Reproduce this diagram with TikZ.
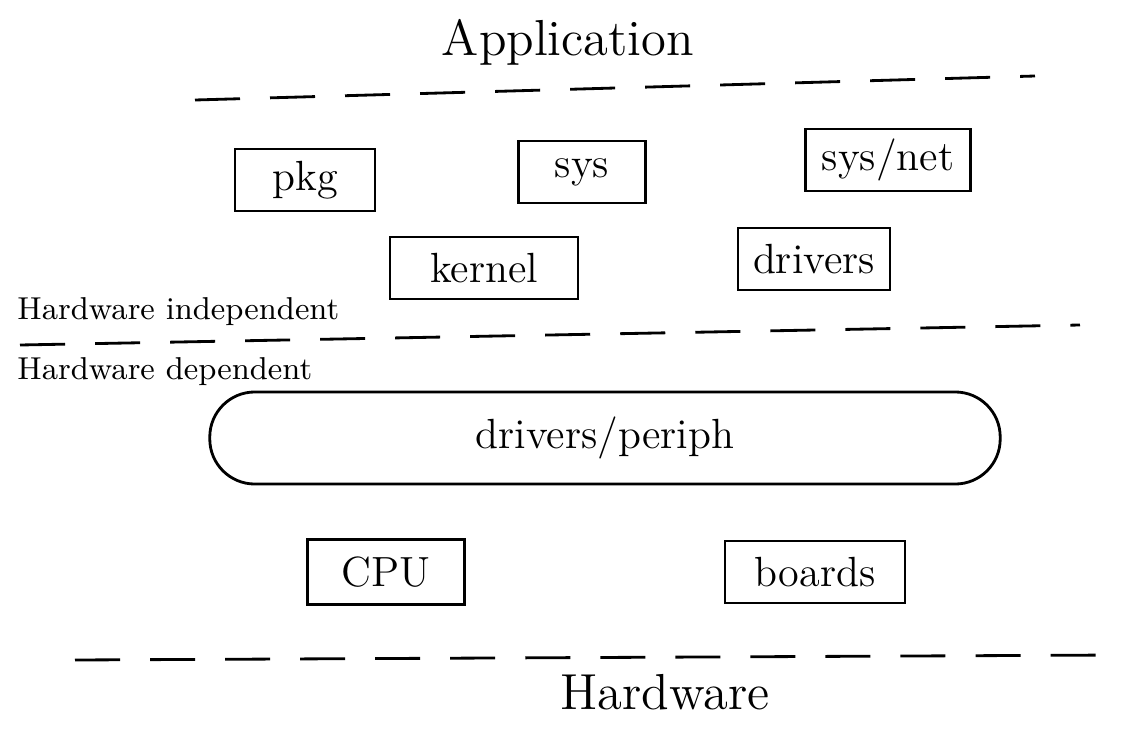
\documentclass[tikz,border=0pt]{standalone}
\usetikzlibrary{positioning}
\tikzset{
  layer/.style={draw,thick,minimum height=0.62cm,inner sep=0pt,font=\large},
  sepline/.style={thick,dash pattern=on 0.45cm off 0.3cm},
  tag/.style={font=\small,anchor=west}
}
\begin{document}
\begin{tikzpicture}[x=0.01cm,y=-0.01cm]
 \useasboundingbox (0,0) rectangle (1129,733);
 % top layer
 \node[font=\Large] (app) at (568,42) {Application};
 \draw[sepline] (195,100) -- (1035,76);
 % hardware independent part
 \node[layer,minimum width=1.4cm] (pkg) at (305,180) {pkg};
 \node[layer,minimum width=1.27cm] (sys) at (582,172) {sys};
 \node[layer,minimum width=1.65cm] (sysnet) at (888,160) {sys/net};
 \node[layer,minimum width=1.88cm] (kernel) at (484,268) {kernel};
 \node[layer,minimum width=1.52cm] (drivers) at (814,259) {drivers};
 \node[tag] (hwind) at (5,312) {Hardware independent};
 \draw[sepline] (20,345) -- (1080,325);
 % hardware dependent part
 \node[tag] (hwdep) at (5,372) {Hardware dependent};
 \node[draw,thick,rounded corners=0.45cm,minimum width=7.9cm,minimum height=0.92cm,font=\large] (periph) at (605,438) {drivers/periph};
 \node[layer,minimum width=1.57cm,minimum height=0.65cm] (cpu) at (386,572) {CPU};
 \node[layer,minimum width=1.8cm] (boards) at (815,572) {boards};
 \draw[sepline] (75,660) -- (1120,655);
 \node[font=\Large] (hw) at (665,692) {Hardware};
\end{tikzpicture}
\end{document}
